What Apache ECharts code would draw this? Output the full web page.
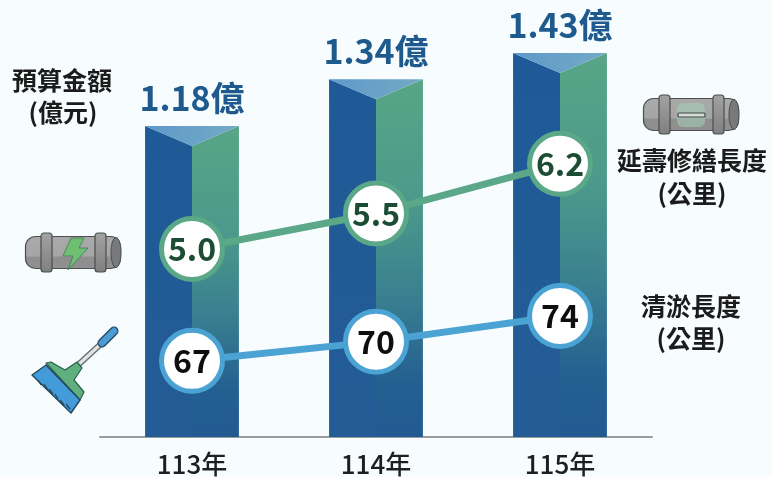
<!DOCTYPE html>
<html>
<head>
<meta charset="utf-8">
<style>
  html, body { margin: 0; padding: 0; background: #f7fcfe; }
  #chart { width: 772px; height: 477px; }
</style>
<script src="https://cdn.jsdelivr.net/npm/echarts@6/dist/echarts.min.js"></script>
</head>
<body>
<div id="chart"></div>
<script>
const years = ['113年', '114年', '115年']
const budget = [1.18, 1.34, 1.43]
const extendLength = [5.0, 5.5, 6.2]
const dredgeLength = [67, 70, 74]

const FONT = '"Noto Sans CJK TC", "Noto Sans", sans-serif'
const GREEN = '#5aa887'
const BLUE = '#4ba3d3'

// 立體長條：左右兩面加頂部三角形
function renderBar (params, api) {
  const base = api.coord([api.value(0), 0.115])
  const top = api.coord([api.value(0), api.value(1)])
  const w = api.size([1, 0])[0] * 0.51
  const cx = top[0]
  const xl = cx - w / 2
  const xr = cx + w / 2
  const apex = top[1] + 20
  const bottom = base[1]
  return {
    type: 'group',
    children: [
      {
        type: 'polygon',
        shape: { points: [[xl, top[1]], [cx, apex], [cx, bottom], [xl, bottom]] },
        style: {
          fill: new echarts.graphic.LinearGradient(0, 0, 0, 1, [
            { offset: 0, color: '#1e5a97' },
            { offset: 1, color: '#245c95' }
          ])
        }
      },
      {
        type: 'polygon',
        shape: { points: [[cx, apex], [xr, top[1]], [xr, bottom], [cx, bottom]] },
        style: {
          fill: new echarts.graphic.LinearGradient(0, 0, 0, 1, [
            { offset: 0, color: '#58a686' },
            { offset: 0.35, color: '#4b998b' },
            { offset: 0.6, color: '#3a8090' },
            { offset: 0.85, color: '#245f91' },
            { offset: 1, color: '#215b92' }
          ])
        }
      },
      {
        type: 'polygon',
        shape: { points: [[xl, top[1]], [xr, top[1]], [cx, apex]] },
        style: {
          fill: new echarts.graphic.LinearGradient(0, 0, 1, 0, [
            { offset: 0, color: '#5f98cb' },
            { offset: 1, color: '#73abc4' }
          ])
        }
      },
      {
        type: 'text',
        x: cx,
        y: top[1] - 28,
        style: {
          text: api.value(1).toFixed(2) + '億',
          fill: '#1f5a8e',
          font: '700 34px ' + FONT,
          align: 'center',
          verticalAlign: 'middle'
        }
      }
    ]
  }
}

function sideText (text, x, y) {
  return {
    type: 'text',
    x: x,
    y: y,
    z: 20,
    style: {
      text: text,
      fill: '#1b1b1b',
      font: '700 25px ' + FONT,
      align: 'center',
      verticalAlign: 'middle'
    }
  }
}

// 管線圖示
function pipeIcon (x, y, inner) {
  const bodyFill = new echarts.graphic.LinearGradient(0, 0, 0, 1, [
    { offset: 0, color: '#a9aaa9' },
    { offset: 0.6, color: '#a4a5a4' },
    { offset: 0.65, color: '#8d8e8d' },
    { offset: 1, color: '#8f908f' }
  ])
  const collarFill = new echarts.graphic.LinearGradient(0, 0, 0, 1, [
    { offset: 0, color: '#a2a3a2' },
    { offset: 1, color: '#7e7f7e' }
  ])
  const line = '#4b4f4f'
  return {
    type: 'group',
    x: x,
    y: y,
    z: 20,
    children: [
      { type: 'rect', shape: { x: 0.5, y: 3.5, width: 95, height: 32, r: 10 }, style: { fill: bodyFill, stroke: line, lineWidth: 1.2 } },
      { type: 'ellipse', shape: { cx: 91, cy: 19.5, rx: 5, ry: 15 }, style: { fill: '#777a79', stroke: line, lineWidth: 1 } }
    ].concat(inner, [
      { type: 'rect', shape: { x: 16, y: 0, width: 11, height: 39, r: 3 }, style: { fill: collarFill, stroke: line, lineWidth: 1.2 } },
      { type: 'rect', shape: { x: 70, y: 0, width: 11, height: 39, r: 3 }, style: { fill: collarFill, stroke: line, lineWidth: 1.2 } }
    ])
  }
}

function broomIcon () {
  const line = '#24475a'
  return {
    type: 'group',
    z: 20,
    children: [
      { type: 'line', shape: { x1: 78, y1: 365, x2: 103, y2: 342 }, style: { stroke: '#5d6a6c', lineWidth: 6 } },
      { type: 'line', shape: { x1: 78, y1: 365, x2: 103, y2: 342 }, style: { stroke: '#dfe3e2', lineWidth: 3.5 } },
      { type: 'line', shape: { x1: 102, y1: 343, x2: 114, y2: 331 }, style: { stroke: line, lineWidth: 9, lineCap: 'round' } },
      { type: 'line', shape: { x1: 102, y1: 343, x2: 114, y2: 331 }, style: { stroke: '#4a9bd6', lineWidth: 6.5, lineCap: 'round' } },
      {
        type: 'polygon',
        shape: { points: [[46, 363], [51, 362], [65, 370], [77, 362], [82, 368], [74, 380], [84, 392], [80, 400]] },
        style: { fill: '#5fb07e', stroke: '#2e5f50', lineWidth: 1.2, lineJoin: 'round' }
      },
      {
        type: 'polygon',
        shape: { points: [[32, 375], [46, 365], [80, 400], [71, 413]] },
        style: { fill: '#449bd9', stroke: line, lineWidth: 1.4, lineJoin: 'round' }
      },
      { type: 'line', shape: { x1: 38, y1: 380, x2: 41, y2: 385 }, style: { stroke: line, lineWidth: 1.3 } },
      { type: 'line', shape: { x1: 44, y1: 384, x2: 48, y2: 390 }, style: { stroke: line, lineWidth: 1.3 } },
      { type: 'line', shape: { x1: 49, y1: 389, x2: 53, y2: 394 }, style: { stroke: line, lineWidth: 1.3 } },
      { type: 'line', shape: { x1: 55, y1: 394, x2: 58, y2: 399 }, style: { stroke: line, lineWidth: 1.3 } },
      { type: 'line', shape: { x1: 60, y1: 400, x2: 64, y2: 405 }, style: { stroke: line, lineWidth: 1.3 } },
      { type: 'line', shape: { x1: 66, y1: 404, x2: 70, y2: 409 }, style: { stroke: line, lineWidth: 1.3 } }
    ]
  }
}

const boltInner = [
  {
    type: 'polygon',
    shape: { points: [[46, 5], [59, 5], [54, 15], [63, 15], [43, 37], [48, 23], [38, 23]] },
    style: { fill: '#6fbf72', stroke: '#3d7a55', lineWidth: 0.8 }
  }
]
const slotInner = [
  {
    type: 'rect',
    shape: { x: 34, y: 8, width: 28, height: 24, r: 6 },
    style: { fill: '#a5d0bb', opacity: 0.55 }
  },
  {
    type: 'rect',
    shape: { x: 35, y: 18, width: 27, height: 4, r: 1 },
    style: { fill: '#d5dcd8', stroke: '#3f4645', lineWidth: 1.2 }
  }
]

function lineSeries (name, yAxisIndex, values, color, textColor, fmt) {
  return {
    name: name,
    type: 'line',
    yAxisIndex: yAxisIndex,
    data: values,
    z: 10,
    silent: true,
    animation: false,
    symbol: 'circle',
    symbolSize: 61,
    showAllSymbol: true,
    lineStyle: { color: color, width: 7 },
    itemStyle: { color: '#ffffff', borderColor: color, borderWidth: 5 },
    label: {
      show: true,
      position: 'inside',
      formatter: p => fmt(p.value),
      color: textColor,
      fontFamily: FONT,
      fontWeight: 700,
      fontSize: 32
    }
  }
}

const chart = echarts.init(document.getElementById('chart'), null, { renderer: 'canvas' })
chart.setOption({
  animation: false,
  backgroundColor: '#f7fcfe',
  grid: { left: 100, right: 120, top: 0, bottom: 40 },
  xAxis: {
    type: 'category',
    data: years,
    axisTick: { show: false },
    axisLine: { lineStyle: { color: '#9a9c9e', width: 2 } },
    axisLabel: { color: '#1e1e1e', fontFamily: FONT, fontSize: 26, margin: 14, fontWeight: 500 }
  },
  yAxis: [
    { type: 'value', min: 0.115, max: 1.6116, show: false, splitLine: { show: false } },
    { type: 'value', min: 2.352, max: 8.507, show: false, splitLine: { show: false } },
    { type: 'value', min: 55.1, max: 123.38, show: false, splitLine: { show: false } }
  ],
  series: [
    {
      name: '預算金額',
      type: 'custom',
      renderItem: renderBar,
      yAxisIndex: 0,
      encode: { x: 0, y: 1 },
      data: budget.map((v, i) => [i, v]),
      z: 2
    },
    lineSeries('延壽修繕長度', 1, extendLength, GREEN, '#1c4d34', v => v.toFixed(1)),
    lineSeries('清淤長度', 2, dredgeLength, BLUE, '#0e0e0e', v => String(v))
  ],
  graphic: [
    sideText('預算金額', 62, 80),
    sideText('(億元)', 63, 112),
    sideText('延壽修繕長度', 692, 160),
    sideText('(公里)', 692, 193),
    sideText('清淤長度', 691, 306),
    sideText('(公里)', 691, 338),
    pipeIcon(25, 233, boltInner),
    pipeIcon(643, 95, slotInner),
    broomIcon()
  ]
})
</script>
</body>
</html>
